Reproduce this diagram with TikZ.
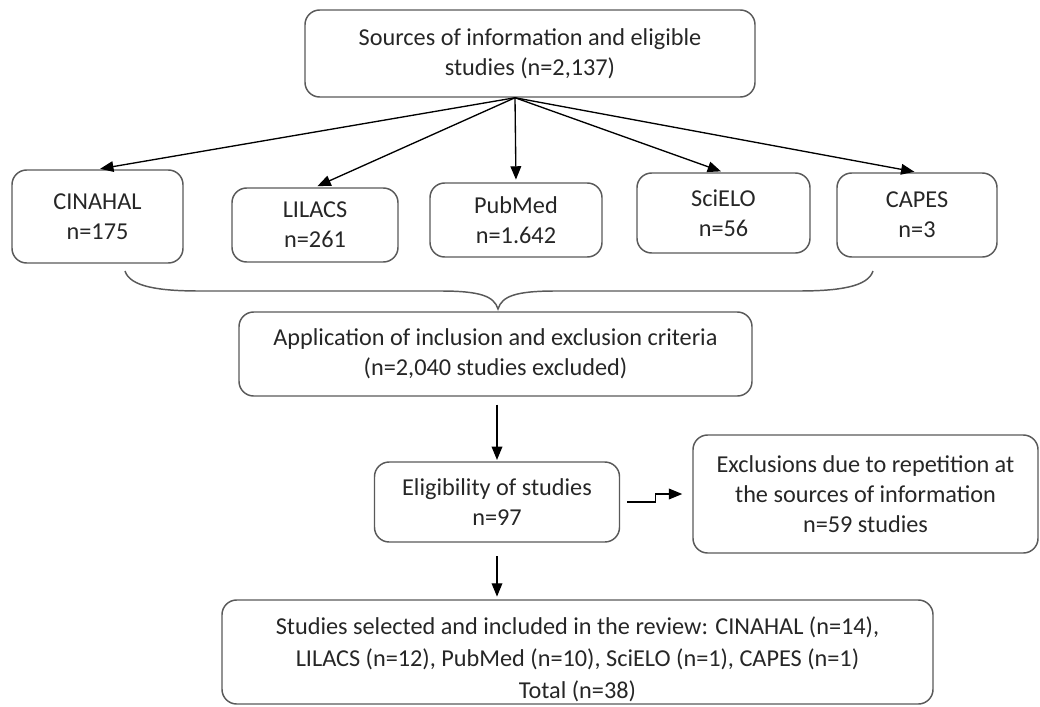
\documentclass[tikz,border=0pt]{standalone}
\usepackage{fontspec}
\setmainfont{Carlito}
\usetikzlibrary{arrows.meta}

\tikzset{every picture/.style={line width=0.75pt}}
\tikzset{
  box/.style={draw={rgb,255:red,89;green,89;blue,89}, line width=1.1pt, rounded corners=11pt, align=center, inner sep=0pt, text={rgb,255:red,38;green,38;blue,38}, font=\fontsize{18.2}{22.5}\selectfont},
  arr/.style={-{Triangle[length=10pt,width=8pt]}, line width=1pt},
}

\begin{document}
\begin{tikzpicture}[x=0.75pt,y=0.75pt,yscale=-1,xscale=1]
\useasboundingbox (0,0) rectangle (1040,707);

% Text Node
\node [box, minimum width=337.5pt, minimum height=65.25pt] (src) at (530,53.5) {Sources of information and eligible\\studies (n=2,137)};
% Text Node
\node [box, minimum width=128.25pt, minimum height=69.75pt] (cin) at (97.5,216.5) {CINAHAL\\n=175};
% Text Node
\node [box, minimum width=124.5pt, minimum height=55.5pt] (lil) at (315,225) {LILACS\\n=261};
% Text Node
\node [box, minimum width=129pt, minimum height=55.5pt] (pub) at (516,220) {PubMed\\n=1.642};
% Text Node
\node [box, minimum width=129.75pt, minimum height=60pt] (sci) at (723.5,213) {SciELO\\n=56};
% Text Node
\node [box, minimum width=120pt, minimum height=63pt] (cap) at (917,215) {CAPES\\n=3};
% Text Node
\node [box, minimum width=384.75pt, minimum height=63pt] (app) at (495.5,354) {Application of inclusion and exclusion criteria\\(n=2,040 studies excluded)};
% Text Node
\node [box, minimum width=183.75pt, minimum height=60pt] (elig) at (497,502) {Eligibility of studies\\n=97};
% Text Node
\node [box, minimum width=258.75pt, minimum height=88.5pt] (excl) at (865.5,494) {Exclusions due to repetition at\\the sources of information\\n=59 studies};
% Text Node
\node [box, minimum width=533.25pt, minimum height=78pt, font=\fontsize{18.2}{24}\selectfont] (sel) at (577.5,652) {\rule{0pt}{24pt}Studies selected and included in the review: CINAHAL (n=14),\\LILACS (n=12), PubMed (n=10), SciELO (n=1), CAPES (n=1)\\Total (n=38)};

%Straight Lines
\foreach \t in {cin,lil,pub,sci,cap}
  \draw [arr, shorten >=2pt] ([xshift=-11.25pt]src.south) -- (\t.north);
%Shape: Brace
\draw [color={rgb,255:red,89;green,89;blue,89}, line width=1.1pt] (125,271) .. controls (130,287) and (160,291) .. (200,291) -- (440,291) .. controls (480,291) and (494,296) .. (498,309) .. controls (502,296) and (516,291) .. (556,291) -- (798,291) .. controls (838,291) and (868,287) .. (873,271);
%Straight Lines
\draw [arr, shorten <=6pt, shorten >=1pt] (elig.north |- app.south) -- (elig.north);
%Straight Lines
\draw [arr, shorten <=10pt, shorten >=2pt] (elig.south) -- (elig.south |- sel.north);
%Elbow Connector
\draw [arr] ([xshift=5.25pt]elig.east) -- ++(21pt,0) |- ([xshift=-7.5pt]excl.west);

\end{tikzpicture}
\end{document}
